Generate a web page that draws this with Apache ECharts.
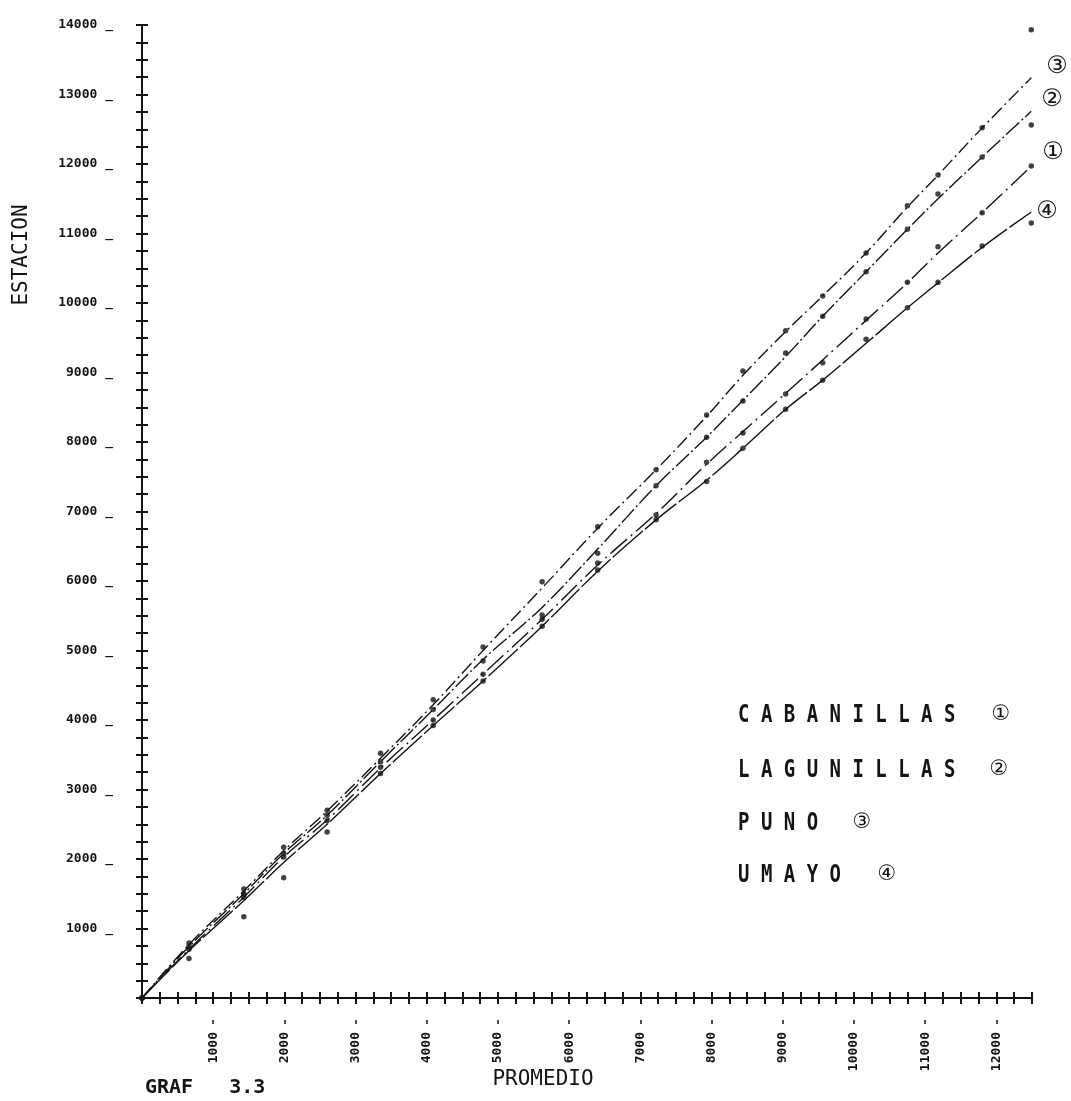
<!DOCTYPE html>
<html>
<head>
<meta charset="utf-8">
<script src="https://cdn.jsdelivr.net/npm/echarts@6/dist/echarts.min.js"></script>
<style>
html,body{margin:0;padding:0;background:#fff;}
#chart{width:1071px;height:1101px;}
</style>
</head>
<body>
<div id="chart"></div>
<script>
// Cumulative average (PROMEDIO) – common x for all stations
const promedio = [0, 660, 1430, 1990, 2600, 3350, 4090, 4790, 5620, 6400, 7220, 7930, 8440, 9040, 9560, 10170, 10750, 11180, 11800, 12490];

// Observed cumulative values per station (ESTACION)
const cabanillasObs = [0, 700, 1450, 2030, 2550, 3320, 4000, 4660, 5450, 6260, 6950, 7710, 8130, 8690, 9140, 9770, 10300, 10810, 11300, 11970];
const lagunillasObs = [0, 740, 1500, 2080, 2630, 3400, 4150, 4850, 5510, 6400, 7370, 8070, 8590, 9280, 9810, 10450, 11060, 11570, 12100, 12560];
const punoObs       = [0, 790, 1570, 2170, 2700, 3520, 4290, 5050, 5990, 6780, 7600, 8390, 9020, 9600, 10100, 10720, 11400, 11840, 12520, 13930];
const umayoObs      = [0, 570, 1170, 1730, 2390, 3230, 3920, 4560, 5350, 6160, 6880, 7430, 7910, 8470, 8890, 9480, 9930, 10300, 10820, 11150];

// Fitted (hand-drawn) curves per station
const cabanillasFit = [0, 700, 1450, 2030, 2560, 3310, 4000, 4660, 5450, 6230, 6970, 7680, 8150, 8700, 9180, 9750, 10290, 10720, 11300, 11970];
const lagunillasFit = [0, 740, 1500, 2080, 2630, 3400, 4150, 4870, 5620, 6460, 7370, 8070, 8600, 9230, 9810, 10450, 11060, 11500, 12100, 12760];
const punoFit       = [0, 770, 1540, 2120, 2690, 3450, 4220, 5000, 5900, 6760, 7600, 8370, 8960, 9590, 10100, 10720, 11380, 11840, 12520, 13240];
const umayoFit      = [0, 680, 1400, 1950, 2500, 3230, 3920, 4560, 5350, 6140, 6880, 7450, 7910, 8470, 8890, 9420, 9930, 10290, 10800, 11310];

const stationNames = ['CABANILLAS', 'LAGUNILLAS', 'PUNO', 'UMAYO'];
const stationMarks = ['①', '②', '③', '④'];

const xLabelValues = [1000, 2000, 3000, 4000, 5000, 6000, 7000, 8000, 9000, 10000, 11000, 12000];
const yLabelValues = [1000, 2000, 3000, 4000, 5000, 6000, 7000, 8000, 9000, 10000, 11000, 12000, 13000, 14000];

const INK = '#141414';
const pair = (ys) => promedio.map((x, i) => [x, ys[i]]);

const fits = [cabanillasFit, lagunillasFit, punoFit, umayoFit];
const obs = [cabanillasObs, lagunillasObs, punoObs, umayoObs];
const dashes = [[22, 5, 2, 5], [18, 3, 2, 3], [14, 4, 2, 4], [40, 3]];
const endOffsets = [[6, -13], [5, -11], [10, -11], [0, 0]];

const series = [];
fits.forEach((f, i) => {
  series.push({
    name: stationNames[i],
    type: 'line',
    smooth: 0.35,
    showSymbol: false,
    symbol: 'none',
    data: pair(f),
    lineStyle: { color: INK, width: 1.4, type: dashes[i] },
    endLabel: {
      show: true, formatter: stationMarks[i], color: INK,
      fontSize: 24, fontFamily: 'DejaVu Sans', distance: 5, offset: endOffsets[i]
    },
    silent: true,
    z: 2
  });
});
obs.forEach((o, i) => {
  series.push({
    name: stationNames[i] + ' obs',
    type: 'scatter',
    symbol: 'circle',
    symbolSize: 5.5,
    data: pair(o),
    itemStyle: { color: INK },
    z: 3
  });
});

const tickFont = { fontFamily: 'DejaVu Sans Mono', fontWeight: 'bold', fontSize: 13, color: INK };
const baseX = { type: 'value', min: 0, max: 12500, interval: 250, splitLine: { show: false }, position: 'bottom' };
const baseY = { type: 'value', min: 0, max: 14000, interval: 250, splitLine: { show: false }, position: 'left' };

const legendRows = [
  { t: 'C A B A N I L L A S', y: 715, mx: 1001 },
  { t: 'L A G U N I L L A S', y: 770, mx: 999 },
  { t: 'P U N O', y: 823, mx: 862 },
  { t: 'U M A Y O', y: 875, mx: 887 }
];
const graphics = [];
legendRows.forEach((r, i) => {
  graphics.push({
    type: 'text', x: 738, y: r.y, scaleY: 1.35,
    style: { text: r.t, font: 'bold 19px "DejaVu Sans Mono"', fill: INK, textAlign: 'left', textVerticalAlign: 'middle' }
  });
  graphics.push({
    type: 'text', x: r.mx, y: r.y,
    style: { text: stationMarks[i], font: '21px "DejaVu Sans"', fill: INK, textAlign: 'center', textVerticalAlign: 'middle' }
  });
});
graphics.push({
  type: 'text', x: 22, y: 255, rotation: Math.PI / 2,
  style: { text: 'ESTACION', font: '21px "DejaVu Sans Mono"', fill: INK, textAlign: 'center', textVerticalAlign: 'middle' }
});
graphics.push({
  type: 'text', x: 543, y: 1080,
  style: { text: 'PROMEDIO', font: '21px "DejaVu Sans Mono"', fill: INK, textAlign: 'center', textVerticalAlign: 'middle' }
});
graphics.push({
  type: 'text', x: 145, y: 1088,
  style: { text: 'GRAF   3.3', font: 'bold 20px "DejaVu Sans Mono"', fill: INK, textAlign: 'left', textVerticalAlign: 'middle' }
});

const option = {
  backgroundColor: '#ffffff',
  animation: false,
  grid: { left: 142, right: 39, top: 25, bottom: 103, containLabel: false },
  xAxis: [
    Object.assign({}, baseX, {
      axisLine: { show: true, lineStyle: { color: INK, width: 2 } },
      axisTick: { show: true, inside: true, length: 6, lineStyle: { color: INK, width: 2 } },
      axisLabel: { show: false }
    }),
    Object.assign({}, baseX, {
      axisLine: { show: false },
      axisTick: { show: true, inside: false, length: 6, lineStyle: { color: INK, width: 2 } },
      axisLabel: { show: false }
    }),
    Object.assign({}, baseX, {
      offset: 22,
      interval: 1000,
      axisLine: { show: false },
      axisTick: { show: true, inside: false, length: 4, customValues: xLabelValues, lineStyle: { color: INK, width: 1.5 } },
      axisLabel: Object.assign({ show: true, rotate: 90, margin: 12, customValues: xLabelValues,
        formatter: (v) => (v > 0 && v % 1000 === 0 ? String(v) : '') }, tickFont)
    })
  ],
  yAxis: [
    Object.assign({}, baseY, {
      axisLine: { show: true, lineStyle: { color: INK, width: 2 } },
      axisTick: { show: true, inside: true, length: 6, lineStyle: { color: INK, width: 2 } },
      axisLabel: Object.assign({ show: true, margin: 29, customValues: yLabelValues,
        formatter: (v) => (v > 0 && v % 1000 === 0 ? v + ' _' : '') }, tickFont)
    }),
    Object.assign({}, baseY, {
      axisLine: { show: false },
      axisTick: { show: true, inside: false, length: 6, lineStyle: { color: INK, width: 2 } },
      axisLabel: { show: false }
    })
  ],
  series: series,
  graphic: graphics
};

const chart = echarts.init(document.getElementById('chart'), null, { renderer: 'canvas' });
chart.setOption(option);
</script>
</body>
</html>
